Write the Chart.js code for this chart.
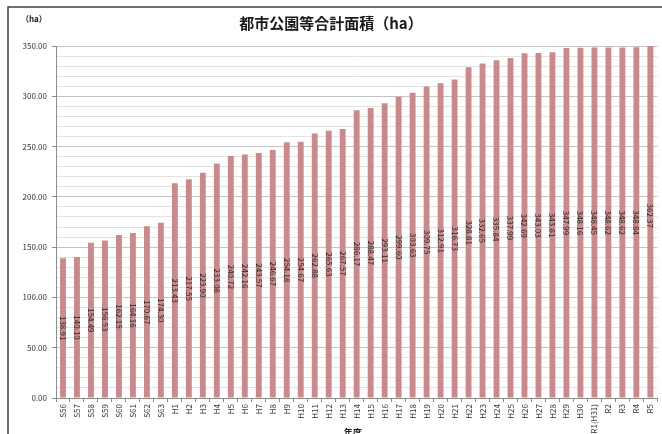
<!DOCTYPE html>
<html>
<head>
<meta charset="utf-8">
<script src="https://cdn.jsdelivr.net/npm/chart.js@4"></script>
<style>
  html, body { margin: 0; padding: 0; background: #fff; }
  #wrap { width: 662px; height: 434px; }
</style>
</head>
<body>
<div id="wrap"><canvas id="parkChart" width="662" height="434"></canvas></div>
<script>
// -------------------------
// Data
// -------------------------
const years = ['S56','S57','S58','S59','S60','S61','S62','S63',
  'H1','H2','H3','H4','H5','H6','H7','H8','H9','H10','H11','H12','H13','H14','H15',
  'H16','H17','H18','H19','H20','H21','H22','H23','H24','H25','H26','H27','H28','H29','H30',
  'R1(H31)','R2','R3','R4','R5'];
const areas = [138.91,140.10,154.49,156.53,162.15,164.16,170.67,174.30,
  213.43,217.55,223.90,233.08,240.72,242.16,243.57,246.67,254.18,254.67,262.88,265.63,267.57,286.17,288.47,
  293.11,299.60,303.63,309.75,312.91,316.73,328.81,332.65,335.84,337.99,342.69,343.03,343.81,347.99,348.16,
  348.45,348.62,348.62,348.84,362.37];
const yTicks = [0, 50, 100, 150, 200, 250, 300, 350];

const titleText = '都市公園等合計面積（ha）';
const unitText = '（ha）';
const xTitleText = '年度';
const jp = '"Noto Sans CJK JP", "Noto Sans", sans-serif';

// -------------------------
// Frame, titles and bar labels
// -------------------------
const decorPlugin = {
  id: 'decor',
  beforeDraw(chart) {
    const ctx = chart.ctx;
    ctx.save();
    ctx.fillStyle = '#fff';
    ctx.fillRect(0, 0, chart.width, chart.height);
    ctx.restore();
  },
  afterDraw(chart) {
    const ctx = chart.ctx;
    const area = chart.chartArea;
    ctx.save();
    // frame (top + left edges of the pasted chart box)
    ctx.strokeStyle = '#404040';
    ctx.lineWidth = 1.5;
    ctx.beginPath();
    ctx.moveTo(8, chart.height);
    ctx.lineTo(8, 7);
    ctx.lineTo(chart.width, 7);
    ctx.stroke();

    ctx.fillStyle = '#1a1a1a';
    ctx.textBaseline = 'middle';
    ctx.textAlign = 'center';
    ctx.font = 'bold 15px ' + jp;
    ctx.fillText(titleText, 331, 23);

    ctx.font = 'bold 8px ' + jp;
    ctx.textAlign = 'left';
    ctx.fillText(unitText, 21, 19);

    ctx.font = 'bold 9px ' + jp;
    ctx.textAlign = 'center';
    ctx.fillText(xTitleText, (area.left + area.right) / 2 - 4, 433);
    ctx.restore();
  },
  afterDatasetsDraw(chart) {
    const ctx = chart.ctx;
    const yScale = chart.scales.y;
    const meta = chart.getDatasetMeta(0);
    ctx.save();
    ctx.font = '8px ' + jp;
    ctx.fillStyle = '#262626';
    ctx.textAlign = 'center';
    ctx.textBaseline = 'middle';
    meta.data.forEach((bar, i) => {
      const v = areas[i];
      const cy = yScale.getPixelForValue(v / 2);
      ctx.save();
      ctx.translate(bar.x, cy);
      ctx.rotate(Math.PI / 2);
      ctx.fillText(v.toFixed(2), 0, 0);
      ctx.restore();
    });
    ctx.restore();
  }
};

// -------------------------
// Chart
// -------------------------
const ctx = document.getElementById('parkChart').getContext('2d');
const parkChart = new Chart(ctx, {
  type: 'bar',
  data: {
    labels: years,
    datasets: [{
      label: '都市公園等合計面積',
      data: areas,
      backgroundColor: '#c98a8c',
      borderWidth: 0,
      barPercentage: 0.42,
      categoryPercentage: 1.0
    }]
  },
  options: {
    responsive: false,
    animation: false,
    layout: { padding: { top: 46, right: 4, left: 0, bottom: 0 } },
    plugins: { legend: { display: false }, title: { display: false }, tooltip: { enabled: false } },
    scales: {
      x: {
        afterFit: (scale) => { scale.height = 36; },
        grid: { drawOnChartArea: false, drawTicks: true, tickLength: 4, offset: true, color: '#8c8c8c' },
        border: { color: '#8c8c8c' },
        ticks: {
          autoSkip: false, minRotation: 90, maxRotation: 90, padding: 2,
          color: '#333', font: { size: 8, family: jp }
        }
      },
      y: {
        min: 0,
        max: 350,
        afterFit: (scale) => { scale.width = 56; },
        border: { color: '#8c8c8c' },
        grid: {
          tickLength: 4,
          color: (c) => (yTicks.includes(c.tick.value) ? '#c4c4c4' : '#e2e2e2'),
          tickColor: (c) => (yTicks.includes(c.tick.value) ? '#8c8c8c' : 'rgba(0,0,0,0)')
        },
        ticks: {
          stepSize: 10,
          autoSkip: false,
          padding: 5,
          color: '#333',
          font: { size: 8, family: jp },
          callback: (v) => (yTicks.includes(v) ? v.toFixed(2) : '')
        }
      }
    }
  },
  plugins: [decorPlugin]
});
</script>
</body>
</html>
